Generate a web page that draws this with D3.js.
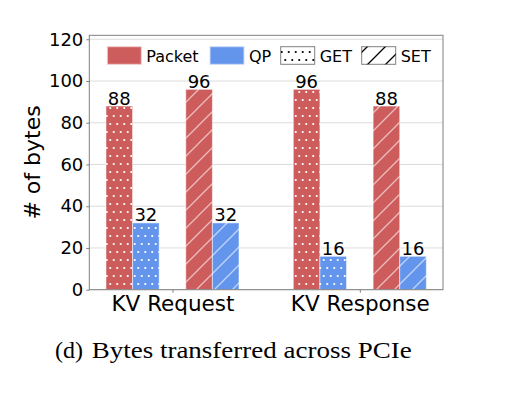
<!DOCTYPE html>
<html>
<head>
<meta charset="utf-8">
<script src="https://cdn.jsdelivr.net/npm/d3@7"></script>
<style>
  body { margin: 0; background: #fff; }
  svg { display: block; }
  text { font-family: "DejaVu Sans", sans-serif; fill: #000; }
  text.caption { font-family: "Liberation Serif", serif; }
</style>
</head>
<body>
<div id="main"></div>
<script>
// data
var categories = ["KV Request", "KV Response"];
var packetGet = [88, 96];
var qpGet = [32, 16];
var packetSet = [96, 88];
var qpSet = [32, 16];
var yTicks = [0, 20, 40, 60, 80, 100, 120];

var width = 507, height = 397;
var red = "#cd5c5c", blue = "#6495ed";

var svg = d3.select("#main").append("svg")
    .attr("width", width)
    .attr("height", height);

// hatch patterns (white on bars, black in legend)
var defs = svg.append("defs");
function dotPattern(id, col) {
    var p = defs.append("pattern").attr("id", id)
        .attr("patternUnits", "userSpaceOnUse")
        .attr("width", 7).attr("height", 16);
    [[1.75, 4], [5.25, 12]].forEach(function (d) {
        p.append("circle").attr("cx", d[0]).attr("cy", d[1]).attr("r", 1.1).attr("fill", col);
    });
}
function linePattern(id, col, op) {
    var p = defs.append("pattern").attr("id", id)
        .attr("patternUnits", "userSpaceOnUse")
        .attr("width", 18).attr("height", 18);
    p.append("path")
        .attr("d", "M-2,2 L2,-2 M0,18 L18,0 M16,20 L20,16")
        .attr("stroke", col).attr("stroke-opacity", op).attr("stroke-width", 1.3);
}
dotPattern("dotsW", "#fff");
linePattern("linesW", "#fff", 0.6);
dotPattern("dotsK", "#000");
linePattern("linesK", "#000", 1);

// scales
var x = d3.scaleLinear().domain([-0.444, 1.444]).range([89.3, 443]);
var y = d3.scaleLinear().domain([0, 121.9]).range([289.7, 35.3]);
var slot = 0.142;

// grid
svg.append("g").selectAll("line").data(yTicks).enter().append("line")
    .attr("x1", x.range()[0]).attr("x2", x.range()[1])
    .attr("y1", function (d) { return y(d); })
    .attr("y2", function (d) { return y(d); })
    .attr("stroke", "#dcdcdc").attr("stroke-width", 1);

// bars
var series = [
    { vals: packetGet, off: -2, col: red, hatch: "dotsW" },
    { vals: qpGet, off: -1, col: blue, hatch: "dotsW" },
    { vals: packetSet, off: 1, col: red, hatch: "linesW" },
    { vals: qpSet, off: 2, col: blue, hatch: "linesW" }
];
series.forEach(function (s) {
    var g = svg.append("g");
    var bw = x(slot) - x(0);
    var bx = function (d, i) { return x(i + s.off * slot) - bw / 2; };
    g.selectAll("rect.fill").data(s.vals).enter().append("rect")
        .attr("class", "fill")
        .attr("x", bx).attr("y", function (d) { return y(d); })
        .attr("width", bw).attr("height", function (d) { return y(0) - y(d); })
        .attr("fill", s.col);
    g.selectAll("rect.hatch").data(s.vals).enter().append("rect")
        .attr("class", "hatch")
        .attr("x", bx).attr("y", function (d) { return y(d); })
        .attr("width", bw).attr("height", function (d) { return y(0) - y(d); })
        .attr("fill", "url(#" + s.hatch + ")")
        .attr("stroke", "#fff").attr("stroke-opacity", 0.5).attr("stroke-width", 1);
    g.selectAll("text").data(s.vals).enter().append("text")
        .attr("x", function (d, i) { return x(i + s.off * slot); })
        .attr("y", function (d) { return y(d) - 1.5; })
        .attr("text-anchor", "middle")
        .attr("font-size", 18)
        .text(function (d) { return d; });
});

// frame
svg.append("rect")
    .attr("x", x.range()[0]).attr("y", y.range()[1])
    .attr("width", x.range()[1] - x.range()[0])
    .attr("height", y.range()[0] - y.range()[1])
    .attr("fill", "none").attr("stroke", "#808080").attr("stroke-width", 1);

// y axis
var yAxis = svg.append("g")
    .attr("transform", "translate(" + x.range()[0] + ",0)")
    .call(d3.axisLeft(y).tickValues(yTicks).tickSize(3).tickPadding(3));
yAxis.select(".domain").remove();
yAxis.selectAll("line").attr("stroke", "#808080");
yAxis.selectAll("text").attr("font-size", 18);

// x axis
var xAxis = svg.append("g")
    .attr("transform", "translate(0," + y.range()[0] + ")")
    .call(d3.axisBottom(x).tickValues([0, 1])
        .tickFormat(function (d) { return categories[d]; })
        .tickSize(3).tickPadding(3));
xAxis.select(".domain").remove();
xAxis.selectAll("line").attr("stroke", "#808080");
xAxis.selectAll("text").attr("font-size", 21.5);

// y label
svg.append("text")
    .attr("transform", "translate(40,162.5) rotate(-90)")
    .attr("text-anchor", "middle")
    .attr("font-size", 22)
    .text("# of bytes");

// legend
var legend = [
    { name: "Packet", x: 107.3, fill: red, stroke: "#f3d0d0", hatch: null },
    { name: "QP", x: 210, fill: blue, stroke: "#d0dcf8", hatch: null },
    { name: "GET", x: 280.7, fill: "#fff", stroke: "#808080", hatch: "dotsK" },
    { name: "SET", x: 361.7, fill: "#fff", stroke: "#808080", hatch: "linesK" }
];
var lg = svg.append("g");
legend.forEach(function (l) {
    lg.append("rect").attr("x", l.x).attr("y", 46.7).attr("width", 34).attr("height", 17.6)
        .attr("fill", l.fill).attr("stroke", l.stroke).attr("stroke-width", 1);
    if (l.hatch) {
        lg.append("rect").attr("x", l.x).attr("y", 46.7).attr("width", 34).attr("height", 17.6)
            .attr("fill", "url(#" + l.hatch + ")");
    }
    lg.append("text").attr("x", l.x + 39).attr("y", 61.7)
        .attr("font-size", 16).text(l.name);
});

// caption
svg.append("text").attr("class", "caption")
    .attr("x", 55).attr("y", 358)
    .attr("font-size", 23)
    .attr("textLength", 28).attr("lengthAdjust", "spacingAndGlyphs")
    .text("(d)");
svg.append("text").attr("class", "caption")
    .attr("x", 91.7).attr("y", 358)
    .attr("font-size", 23)
    .attr("textLength", 320).attr("lengthAdjust", "spacingAndGlyphs")
    .text("Bytes transferred across PCIe");
</script>
</body>
</html>
